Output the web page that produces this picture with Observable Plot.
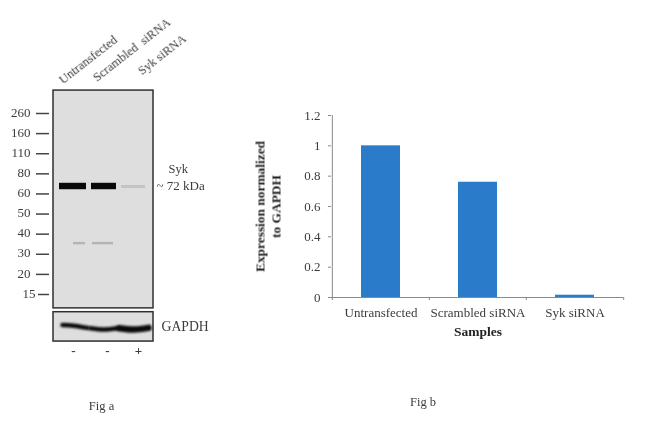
<!DOCTYPE html>
<html>
<head>
<meta charset="utf-8">
<script src="https://cdn.jsdelivr.net/npm/d3@7"></script>
<script src="https://cdn.jsdelivr.net/npm/@observablehq/plot@0.6"></script>
<style>
html,body{margin:0;padding:0;background:#fff;width:650px;height:423px;overflow:hidden}
#wrap{position:relative;width:650px;height:423px}
#wrap svg{position:absolute;left:0;top:0;background:transparent;font-family:"Liberation Serif",serif}
g[aria-label="blot band"],g[aria-label="line"]{filter:blur(.8px)}
g[aria-label="faint band"]{filter:blur(1.2px)}
text{filter:blur(.25px)}
</style>
</head>
<body>
<div id="wrap"></div>
<script>
// Fig b
const samples = ["Untransfected", "Scrambled siRNA", "Syk siRNA"];
const expression = [1, 0.76, 0.015];
const yTicks = [0, 0.2, 0.4, 0.6, 0.8, 1, 1.2];

// Fig a: ladder (rank = evenly spaced position on the membrane)
const ladderLabels = ["260", "160", "110", "80", "60", "50", "40", "30", "20", "15"];
const laneLabels = ["Untransfected", "Scrambled  siRNA", "Syk siRNA"];
const laneLabelX = [7, 41, 86];
const laneLabelY = [-1.6, -1.72, -2.05];
const sykBands = [[6, 33], [38, 63]];
const sykRank = 3.63;
const sykFaint = [68, 92];
const lowBands = [[20, 32], [39, 60]];
const lowRank = 6.47;
const gapdh = [
  [[9, 10.52], [20, 10.55], [34, 10.66]],
  [[37, 10.68], [50, 10.74], [64, 10.68]],
  [[66, 10.68], [80, 10.74], [95, 10.66]]
];
const signs = ["-", "-", "+"];
const signX = [20, 54, 85];

const blotBg = "#dedede", ink = "#3c3c3c";
const font = '"Liberation Serif", serif';

const blot = Plot.plot({
  width: 650, height: 423,
  x: {domain: [0, 100], range: [53, 153], axis: null},
  y: {domain: [0, 9], range: [113, 294], axis: null},
  style: {fontFamily: font, background: "transparent"},
  marks: [
    Plot.rect([0], {x1: 0, x2: 100, y1: -1.14, y2: 9.69, fill: blotBg, stroke: "#2f2f2f", strokeWidth: 1.5}),
    Plot.rect([0], {x1: 0, x2: 100, y1: 9.88, y2: 11.34, fill: blotBg, stroke: "#2f2f2f", strokeWidth: 1.5}),
    Plot.ruleY([sykRank], {x1: sykFaint[0], x2: sykFaint[1], stroke: "#c4c4c4", strokeWidth: 3, ariaLabel: "faint band"}),
    Plot.rect(lowBands, {x1: d => d[0], x2: d => d[1], y1: lowRank - 0.06, y2: lowRank + 0.06, fill: "#b4b4b4", ariaLabel: "faint band"}),
    Plot.rect(sykBands, {x1: d => d[0], x2: d => d[1], y1: sykRank - 0.16, y2: sykRank + 0.16, fill: "#0a0a0a", ariaLabel: "blot band"}),
    ...gapdh.map((pts, i) => Plot.line(pts, {x: d => d[0], y: d => d[1], curve: "catmull-rom", stroke: "#0a0a0a", strokeWidth: i === 2 ? 6.5 : 4.5})),
    Plot.ruleY(ladderLabels.map((d, i) => i), {x1: (d, i) => i === 9 ? -15 : -17, x2: -4, stroke: "#444", strokeWidth: 1.5}),
    Plot.text(ladderLabels, {x: (d, i) => i === 9 ? -18 : -23, y: (d, i) => i, text: d => d, textAnchor: "end", fontSize: 13, fill: ink, dy: -1}),
    Plot.text(laneLabels, {x: (d, i) => laneLabelX[i], y: (d, i) => laneLabelY[i], text: d => d, rotate: -38, textAnchor: "start", fontSize: 12.5, fill: ink}),
    Plot.text(["Syk"], {x: 115, y: 2.78, textAnchor: "start", fontSize: 12.5, fill: ink}),
    Plot.text(["~ 72 kDa"], {x: 103, y: 3.58, textAnchor: "start", fontSize: 13, fill: ink}),
    Plot.text(["GAPDH"], {x: 108, y: 10.6, textAnchor: "start", fontSize: 13.7, fill: ink}),
    Plot.text(signs, {x: (d, i) => signX[i], y: 11.82, text: d => d, fontSize: 13, fontWeight: "bold", fill: ink}),
    Plot.text(["Fig a"], {x: 48, y: 14.56, fontSize: 12.5, fill: ink}),
  ]
});

const bars = samples.map((s, i) => ({s, v: expression[i]}));
const chart = Plot.plot({
  width: 650, height: 423,
  marginLeft: 331, marginRight: 27, marginTop: 115, marginBottom: 126,
  x: {domain: samples, paddingInner: 0.6, paddingOuter: 0.3, axis: null},
  y: {domain: [0, 1.2], axis: null},
  style: {fontFamily: font, background: "transparent"},
  marks: [
    Plot.barY(bars, {x: "s", y: "v", fill: "#2a7ccb"}),
    Plot.ruleY([0], {stroke: "#8a8a8a"}),
    Plot.ruleX(samples, {x: d => d, dx: -48.67, y1: 0, y2: -0.02, stroke: "#8a8a8a"}),
    Plot.ruleX(samples.slice(-1), {x: d => d, dx: 48.67, y1: 0, y2: -0.02, stroke: "#8a8a8a"}),
    Plot.ruleX(samples.slice(0, 1), {x: d => d, dx: -48.67, y1: 0, y2: 1.2, stroke: "#8a8a8a"}),
    Plot.axisY(yTicks, {anchor: "left", tickSize: 3, tickPadding: 8, stroke: "#8a8a8a", fill: ink, fontSize: 13, tickFormat: d => String(d), label: null}),
    Plot.text(samples, {x: d => d, y: -0.1, text: d => d, fontSize: 13, fill: ink}),
    Plot.text(["Samples"], {x: () => samples[1], y: -0.224, fontSize: 13.5, fontWeight: "bold", fill: "#222"}),
    Plot.text(["Expression normalized"], {frameAnchor: "left", textAnchor: "middle", dx: -71, rotate: -90, fontSize: 13.4, fontWeight: "bold", fill: "#222"}),
    Plot.text(["to GAPDH"], {frameAnchor: "left", textAnchor: "middle", dx: -55, rotate: -90, fontSize: 13.4, fontWeight: "bold", fill: "#222"}),
    Plot.text(["Fig b"], {x: () => samples[1], dx: -55, y: -0.686, fontSize: 12.5, fill: ink})
  ]
});

const wrap = document.getElementById("wrap");
wrap.append(blot, chart);
</script>
</body>
</html>
